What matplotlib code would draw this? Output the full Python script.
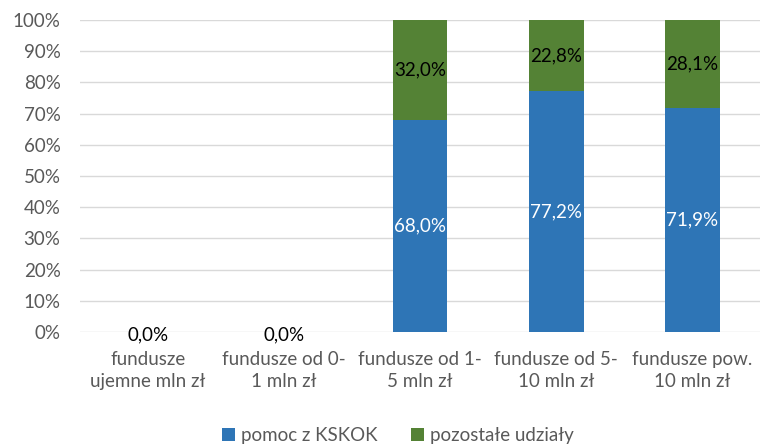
import matplotlib
matplotlib.use('Agg')
import matplotlib.pyplot as plt
import numpy as np

categories = ['fundusze\nujemne mln zł', 'fundusze od 0-\n1 mln zł',
              'fundusze od 1-\n5 mln zł', 'fundusze od 5-\n10 mln zł',
              'fundusze pow.\n10 mln zł']
pomoc = [0.0, 0.0, 68.0, 77.2, 71.9]
pozostale = [0.0, 0.0, 32.0, 22.8, 28.1]

plt.rcParams['font.family'] = ['Lato', 'DejaVu Sans']
fs = 13.5

fig = plt.figure(figsize=(7.62, 4.45), dpi=100)
ax = fig.add_axes([0.105, 0.254, 0.893, 0.701])

x = np.arange(len(categories))
blue = '#2E75B6'
green = '#548235'
b1 = ax.bar(x, pomoc, width=0.4, color=blue, label='pomoc z KSKOK', zorder=3)
b2 = ax.bar(x, pozostale, width=0.4, bottom=pomoc, color=green,
            label='pozostałe udziały', zorder=3)

for i in range(len(x)):
    if pomoc[i] + pozostale[i] == 0:
        ax.text(x[i], -0.8, '0,0%', ha='center', va='center', fontsize=fs,
                color='black', zorder=4)
        continue
    ax.text(x[i], pomoc[i] / 2, f'{pomoc[i]:.1f}%'.replace('.', ','),
            ha='center', va='center', fontsize=fs, color='white', zorder=4)
    ax.text(x[i], pomoc[i] + pozostale[i] / 2,
            f'{pozostale[i]:.1f}%'.replace('.', ','),
            ha='center', va='center', fontsize=fs, color='black', zorder=4)

ax.set_xlim(-0.5, len(x) - 0.5)
ax.set_ylim(0, 100)
ax.set_yticks(range(0, 101, 10))
ax.set_yticklabels([f'{v}%' for v in range(0, 101, 10)])
ax.set_xticks(x)
ax.set_xticklabels(categories, linespacing=1.3)
ax.tick_params(axis='both', length=0, labelsize=fs, colors='#595959')
ax.tick_params(axis='y', pad=14)
ax.tick_params(axis='x', pad=14)
ax.grid(axis='y', color='#D9D9D9', linewidth=1, zorder=0)
for s in ax.spines.values():
    s.set_visible(False)

fig.legend(handles=[b1, b2], loc='center', bbox_to_anchor=(0.522, 0.022),
           ncol=2, frameon=False, fontsize=fs, handlelength=0.7,
           handleheight=0.7, columnspacing=1.8, handletextpad=0.3,
           labelcolor='#595959')

fig.savefig('out.png', dpi=100)
